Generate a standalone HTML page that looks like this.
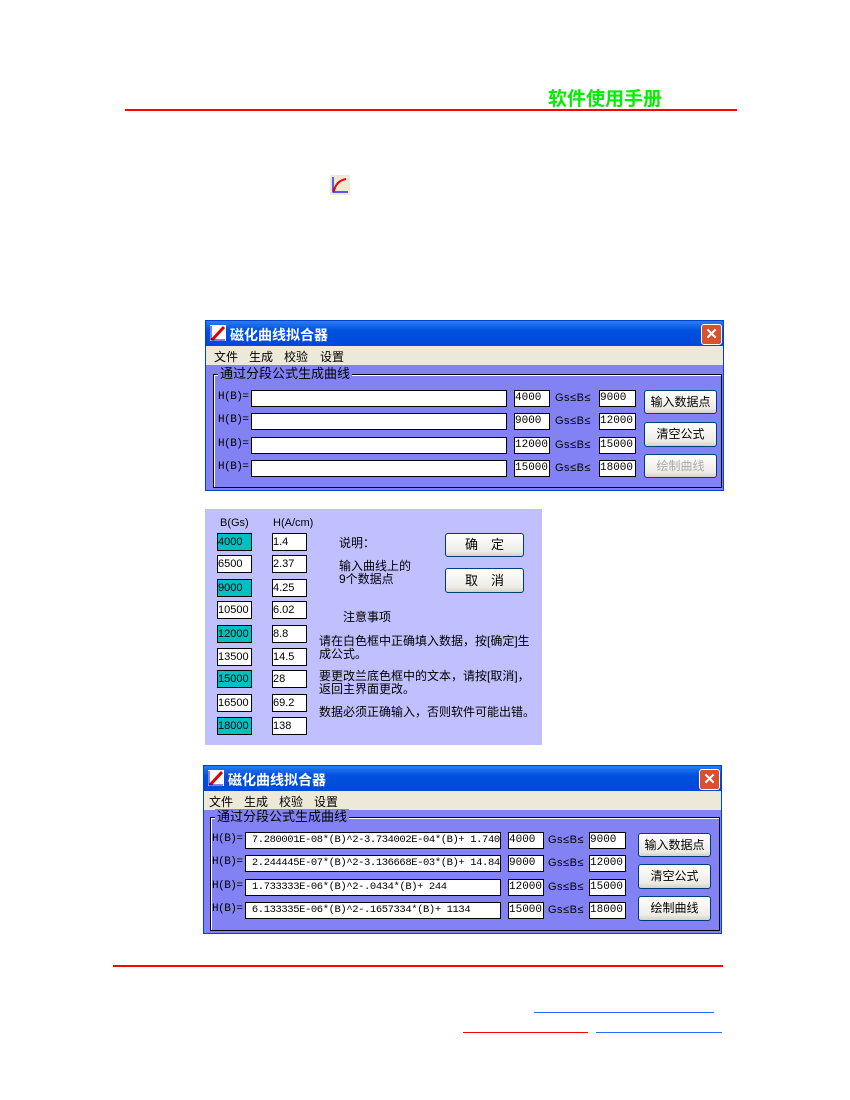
<!DOCTYPE html>
<html><head><meta charset="utf-8"><style>
body{margin:0;width:850px;height:1100px;background:#fff;position:relative;overflow:hidden;font-family:"Liberation Sans","Noto Sans CJK SC","WenQuanYi Zen Hei",sans-serif;}
.a{position:absolute;}
.win{position:absolute;background:#8282f5;border:1px solid #0040d0;}
.title{position:absolute;left:0;right:0;top:0;height:25px;background:linear-gradient(#2a7cf0,#0050e0 40%,#0048d8);color:#fff;font-weight:bold;font-size:14px;}
.title span{position:absolute;left:24px;top:4px;}
.ico{position:absolute;left:4px;top:4px;width:16px;height:16px;background:#fff;overflow:hidden;}
.x{position:absolute;right:1px;top:3px;width:19px;height:19px;background:#d8502c;border:1px solid #fff;border-radius:3px;color:#fff;font-size:15px;font-weight:bold;text-align:center;line-height:19px;}
.menu{position:absolute;left:0;right:0;top:25px;height:19px;background:#ece9d8;font-size:12px;}
.menu span{position:absolute;top:2px;}
.grp{position:absolute;border:1px solid #000;box-shadow:inset 1px 1px 0 #fff;}
.gl{position:absolute;top:-9px;left:4px;background:#8282f5;font-size:13px;padding:0 2px;line-height:16px;}
.f{position:absolute;background:#fff;border:1px solid #000;height:15px;font-family:"Liberation Mono","Noto Sans CJK SC",monospace;font-size:11px;line-height:15px;overflow:hidden;white-space:nowrap;box-sizing:content-box;}
.ff{font-size:10.5px;letter-spacing:-0.4px;}
.lb{position:absolute;font-size:11px;font-family:"Liberation Mono",monospace;letter-spacing:-0.5px;}
.gs{position:absolute;font-size:11px;letter-spacing:0.5px;font-family:"Liberation Sans","Noto Sans CJK SC",sans-serif;}
.btn{position:absolute;background:linear-gradient(#fff,#ecebe6 80%,#d6d0c5);border:1px solid #003c74;border-radius:3px;font-size:12px;text-align:center;}
.d{position:absolute;width:33px;height:16px;border:1px solid #000;background:#fff;font-size:11px;line-height:16px;font-family:"Liberation Sans",sans-serif;}
.c{background:#00c0c0;}
.t{position:absolute;font-size:12px;line-height:13px;}
</style></head><body>
<div class="a" style="left:548px;top:84px;color:#00ee00;font-size:19px;font-weight:bold;">软件使用手册</div>
<div class="a" style="left:125px;top:109px;width:612px;height:2px;background:#f00"></div>
<svg class="a" style="left:330px;top:175px" width="20" height="20"><rect width="20" height="20" fill="#ece9d8"/><path d="M3 2V17H18" stroke="#00f" fill="none" stroke-width="1.2"/><path d="M4 16Q6 6 16 4" stroke="#f00" fill="none" stroke-width="2"/></svg>

<!-- window 1 -->
<div class="win" style="left:205px;top:320px;width:517px;height:169px;">
 <div class="title"><div class="ico"><svg width="16" height="16"><path d="M2 15L14 2" stroke="#d00" stroke-width="3"/><path d="M1 1V15H15" stroke="#00c" fill="none"/></svg></div><span>磁化曲线拟合器</span><div class="x">✕</div></div>
 <div class="menu"><span style="left:8px">文件</span><span style="left:43px">生成</span><span style="left:78px">校验</span><span style="left:114px">设置</span></div>
 <div class="grp" style="left:7px;top:53px;width:507px;height:112px;"><div class="gl">通过分段公式生成曲线</div></div>
</div>
<div class="lb" style="left:218px;top:391px">H(B)=</div><div class="f" style="left:251px;top:390px;width:254px"></div>
<div class="lb" style="left:218px;top:414px">H(B)=</div><div class="f" style="left:251px;top:413px;width:254px"></div>
<div class="lb" style="left:218px;top:438px">H(B)=</div><div class="f" style="left:251px;top:437px;width:254px"></div>
<div class="lb" style="left:218px;top:461px">H(B)=</div><div class="f" style="left:251px;top:460px;width:254px"></div>
<div class="f" style="left:514px;top:390px;width:34px">4000</div><div class="gs" style="left:555px;top:392px">Gs≤B≤</div><div class="f" style="left:599px;top:390px;width:35px">9000</div>
<div class="f" style="left:514px;top:413px;width:34px">9000</div><div class="gs" style="left:555px;top:415px">Gs≤B≤</div><div class="f" style="left:599px;top:413px;width:35px">12000</div>
<div class="f" style="left:514px;top:437px;width:34px">12000</div><div class="gs" style="left:555px;top:439px">Gs≤B≤</div><div class="f" style="left:599px;top:437px;width:35px">15000</div>
<div class="f" style="left:514px;top:460px;width:34px">15000</div><div class="gs" style="left:555px;top:462px">Gs≤B≤</div><div class="f" style="left:599px;top:460px;width:35px">18000</div>
<div class="btn" style="left:644px;top:390px;width:71px;height:22px;line-height:22px">输入数据点</div>
<div class="btn" style="left:644px;top:422px;width:71px;height:23px;line-height:23px">清空公式</div>
<div class="btn" style="left:644px;top:454px;width:71px;height:22px;line-height:22px;color:#aaa">绘制曲线</div>

<!-- dialog -->
<div class="a" style="left:205px;top:509px;width:337px;height:236px;background:#c0c0ff"></div>
<div class="t" style="left:220px;top:517px;font-size:11px">B(Gs)</div><div class="t" style="left:273px;top:517px;font-size:11px">H(A/cm)</div>
<div class="d c" style="left:217px;top:533px">4000</div><div class="d" style="left:272px;top:533px">1.4</div>
<div class="d" style="left:217px;top:555px">6500</div><div class="d" style="left:272px;top:555px">2.37</div>
<div class="d c" style="left:217px;top:579px">9000</div><div class="d" style="left:272px;top:579px">4.25</div>
<div class="d" style="left:217px;top:601px">10500</div><div class="d" style="left:272px;top:601px">6.02</div>
<div class="d c" style="left:217px;top:625px">12000</div><div class="d" style="left:272px;top:625px">8.8</div>
<div class="d" style="left:217px;top:648px">13500</div><div class="d" style="left:272px;top:648px">14.5</div>
<div class="d c" style="left:217px;top:670px">15000</div><div class="d" style="left:272px;top:670px">28</div>
<div class="d" style="left:217px;top:694px">16500</div><div class="d" style="left:272px;top:694px">69.2</div>
<div class="d c" style="left:217px;top:717px">18000</div><div class="d" style="left:272px;top:717px">138</div>
<div class="t" style="left:339px;top:537px">说明：</div>
<div class="t" style="left:339px;top:560px">输入曲线上的<br>9个数据点</div>
<div class="t" style="left:343px;top:611px">注意事项</div>
<div class="t" style="left:319px;top:635px">请在白色框中正确填入数据，按[确定]生<br>成公式。</div>
<div class="t" style="left:319px;top:670px">要更改兰底色框中的文本，请按[取消]，<br>返回主界面更改。</div>
<div class="t" style="left:319px;top:706px">数据必须正确输入，否则软件可能出错。</div>
<div class="btn" style="left:445px;top:533px;width:77px;height:22px;line-height:22px;font-size:13px">确　定</div>
<div class="btn" style="left:445px;top:568px;width:77px;height:23px;line-height:23px;font-size:13px">取　消</div>

<!-- window 3 -->
<div class="win" style="left:203px;top:765px;width:517px;height:167px;">
 <div class="title"><div class="ico"><svg width="16" height="16"><path d="M2 15L14 2" stroke="#d00" stroke-width="3"/><path d="M1 1V15H15" stroke="#00c" fill="none"/></svg></div><span>磁化曲线拟合器</span><div class="x">✕</div></div>
 <div class="menu"><span style="left:5px">文件</span><span style="left:40px">生成</span><span style="left:75px">校验</span><span style="left:110px">设置</span></div>
 <div class="grp" style="left:6px;top:51px;width:508px;height:112px;"><div class="gl">通过分段公式生成曲线</div></div>
</div>
<div class="lb" style="left:212px;top:833px">H(B)=</div><div class="f ff" style="left:245px;top:832px;width:254px">&nbsp;7.280001E-08*(B)^2-3.734002E-04*(B)+ 1.7408</div>
<div class="lb" style="left:212px;top:856px">H(B)=</div><div class="f ff" style="left:245px;top:855px;width:254px">&nbsp;2.244445E-07*(B)^2-3.136668E-03*(B)+ 14.84</div>
<div class="lb" style="left:212px;top:880px">H(B)=</div><div class="f ff" style="left:245px;top:879px;width:254px">&nbsp;1.733333E-06*(B)^2-.0434*(B)+ 244</div>
<div class="lb" style="left:212px;top:903px">H(B)=</div><div class="f ff" style="left:245px;top:902px;width:254px">&nbsp;6.133335E-06*(B)^2-.1657334*(B)+ 1134</div>
<div class="f" style="left:508px;top:832px;width:34px">4000</div><div class="gs" style="left:548px;top:834px">Gs≤B≤</div><div class="f" style="left:589px;top:832px;width:35px">9000</div>
<div class="f" style="left:508px;top:855px;width:34px">9000</div><div class="gs" style="left:548px;top:857px">Gs≤B≤</div><div class="f" style="left:589px;top:855px;width:35px">12000</div>
<div class="f" style="left:508px;top:879px;width:34px">12000</div><div class="gs" style="left:548px;top:881px">Gs≤B≤</div><div class="f" style="left:589px;top:879px;width:35px">15000</div>
<div class="f" style="left:508px;top:902px;width:34px">15000</div><div class="gs" style="left:548px;top:904px">Gs≤B≤</div><div class="f" style="left:589px;top:902px;width:35px">18000</div>
<div class="btn" style="left:638px;top:833px;width:71px;height:22px;line-height:22px">输入数据点</div>
<div class="btn" style="left:638px;top:864px;width:71px;height:23px;line-height:23px">清空公式</div>
<div class="btn" style="left:638px;top:896px;width:71px;height:23px;line-height:23px">绘制曲线</div>

<!-- footer -->
<div class="a" style="left:113px;top:965px;width:610px;height:2px;background:#f00"></div>
<div class="a" style="left:534px;top:1012px;width:180px;height:1px;background:#36f"></div>
<div class="a" style="left:463px;top:1032px;width:125px;height:1px;background:#f00"></div>
<div class="a" style="left:596px;top:1032px;width:126px;height:1px;background:#36f"></div>
</body></html>
